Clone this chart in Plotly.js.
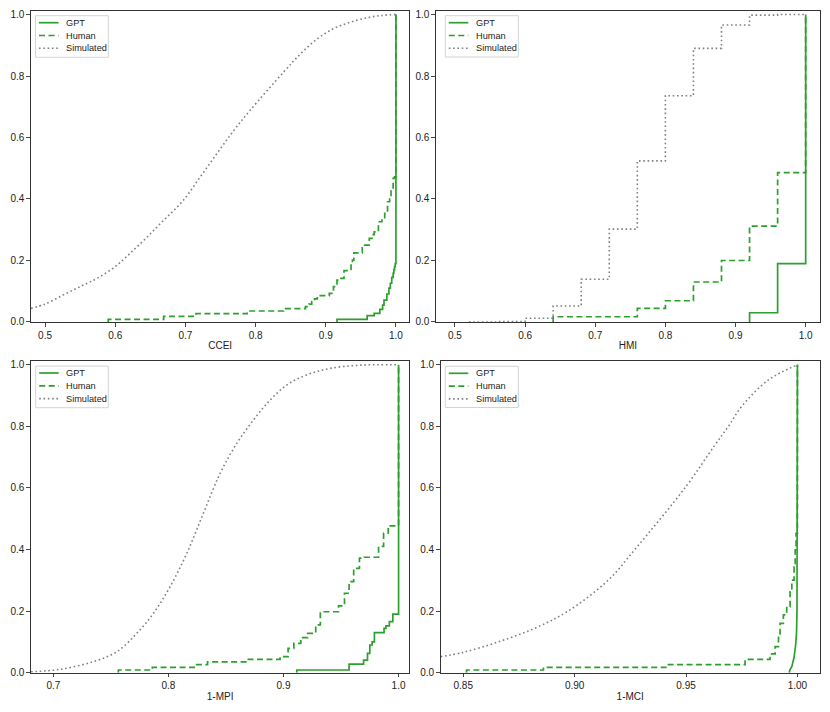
<!DOCTYPE html>
<html>
<head>
<meta charset="utf-8">
<script src="https://cdn.plot.ly/plotly-3.0.1.min.js"></script>
<style>
  body { margin: 0; background: #fff; }
  #chart { width: 830px; height: 712px; }
</style>
</head>
<body>
<div id="chart"></div>
<script>
// Create Data Variables (ECDF step points; each step curve starts at 0)
// CCEI panel
var ccei_gpt_x = [0.916, 0.916, 0.959, 0.969, 0.977, 0.981, 0.983, 0.987, 0.990, 0.992, 0.994, 0.996, 0.997, 0.998, 0.999, 1.0];
var ccei_gpt_y = [0.0, 0.0087, 0.0206, 0.028, 0.041, 0.055, 0.071, 0.091, 0.11, 0.126, 0.145, 0.158, 0.17, 0.18, 0.19, 1.0];
var ccei_human_x = [0.590, 0.590, 0.669, 0.715, 0.788, 0.840, 0.871, 0.876, 0.880, 0.884, 0.888, 0.905, 0.911, 0.916, 0.920, 0.926, 0.936, 0.938, 0.940, 0.952, 0.962, 0.966, 0.969, 0.975, 0.980, 0.984, 0.988, 0.991, 0.993, 0.996, 0.998, 1.0];
var ccei_human_y = [0.0, 0.0087, 0.0185, 0.027, 0.0357, 0.0433, 0.050, 0.058, 0.066, 0.075, 0.0855, 0.093, 0.115, 0.136, 0.142, 0.167, 0.19, 0.201, 0.225, 0.25, 0.272, 0.284, 0.293, 0.326, 0.335, 0.353, 0.391, 0.40, 0.429, 0.467, 0.472, 1.0];
var ccei_sim_x = [0.48, 0.50, 0.526, 0.55, 0.574, 0.60, 0.621, 0.645, 0.669, 0.695, 0.72, 0.745, 0.768, 0.792, 0.840, 0.864, 0.888, 0.911, 0.935, 0.96, 0.98, 1.0];
var ccei_sim_y = [0.044, 0.058, 0.088, 0.115, 0.142, 0.18, 0.223, 0.275, 0.331, 0.39, 0.468, 0.548, 0.62, 0.688, 0.813, 0.872, 0.921, 0.954, 0.975, 0.99, 0.997, 1.0];

// HMI panel
var hmi_gpt_x = [0.92, 0.92, 0.96, 1.0];
var hmi_gpt_y = [0.0, 0.030, 0.19, 1.0];
var hmi_human_x = [0.64, 0.64, 0.76, 0.80, 0.84, 0.88, 0.92, 0.96, 1.0];
var hmi_human_y = [0.0, 0.017, 0.044, 0.069, 0.13, 0.20, 0.312, 0.486, 1.0];
var hmi_sim_x = [0.52, 0.56, 0.60, 0.64, 0.68, 0.72, 0.76, 0.80, 0.84, 0.88, 0.92, 0.96, 1.0];
var hmi_sim_y = [0.0, 0.001, 0.012, 0.052, 0.139, 0.302, 0.524, 0.736, 0.89, 0.966, 0.998, 1.0, 1.0];

// 1-MPI panel
var mpi_gpt_x = [0.9116, 0.9116, 0.957, 0.9696, 0.973, 0.975, 0.977, 0.979, 0.982, 0.9874, 0.989, 0.992, 0.995, 0.9965, 1.0];
var mpi_gpt_y = [0.0, 0.0087, 0.028, 0.041, 0.063, 0.09, 0.10, 0.13, 0.13, 0.144, 0.152, 0.166, 0.19, 0.19, 1.0];
var mpi_human_x = [0.7565, 0.7565, 0.786, 0.8232, 0.834, 0.868, 0.897, 0.904, 0.909, 0.915, 0.921, 0.928, 0.932, 0.9478, 0.953, 0.957, 0.961, 0.966, 0.970, 0.9826, 0.987, 0.991, 0.995, 1.0];
var mpi_human_y = [0.0, 0.0087, 0.0173, 0.026, 0.035, 0.0435, 0.052, 0.079, 0.0955, 0.114, 0.128, 0.155, 0.198, 0.217, 0.258, 0.296, 0.339, 0.372, 0.375, 0.41, 0.453, 0.477, 0.477, 1.0];
var mpi_sim_x = [0.6806, 0.7058, 0.7348, 0.7551, 0.7725, 0.787, 0.8015, 0.816, 0.8304, 0.845, 0.8595, 0.8739, 0.8870, 0.903, 0.9203, 0.94, 0.967, 1.0];
var mpi_sim_y = [0.003, 0.011, 0.036, 0.068, 0.128, 0.193, 0.28, 0.388, 0.518, 0.648, 0.7455, 0.821, 0.880, 0.935, 0.9675, 0.988, 0.999, 1.0];

// 1-MCI panel
var mci_gpt_x = [0.9963, 0.9966, 0.9975, 0.9985, 0.9992, 0.9996, 0.9998, 1.0];
var mci_gpt_y = [0.0, 0.0087, 0.02, 0.05, 0.09, 0.13, 0.2, 1.0];
var mci_human_x = [0.8515, 0.8515, 0.886, 0.9416, 0.9765, 0.9863, 0.9877, 0.990, 0.9915, 0.9922, 0.9937, 0.9952, 0.9967, 0.9975, 0.9985, 0.999, 0.9994, 1.0];
var mci_human_y = [0.0, 0.0087, 0.0175, 0.026, 0.0435, 0.0435, 0.061, 0.085, 0.122, 0.16, 0.1875, 0.2145, 0.263, 0.301, 0.344, 0.399, 0.453, 1.0];
var mci_sim_x = [0.8398, 0.85, 0.8657, 0.882, 0.897, 0.915, 0.927, 0.95, 0.963, 0.969, 0.975, 0.987, 1.0];
var mci_sim_y = [0.052, 0.066, 0.10, 0.144, 0.20, 0.30, 0.40, 0.605, 0.74, 0.80, 0.865, 0.951, 1.0];

var axis_titles = ["CCEI", "HMI", "1-MPI", "1-MCI"];
var series_names = ["GPT", "Human", "Simulated"];

// Styles
var green = "#2ca02c";
var grey = "#808080";
var font_family = "Liberation Sans, Arial, sans-serif";
var line_styles = [
  { color: green, width: 1.7, dash: "solid" },
  { color: green, width: 1.7, dash: "6px,3.5px" },
  { color: grey, width: 1.6, dash: "1.6px,2.7px" }
];

// Build the three traces of one panel
function panel_traces(n, gx, gy, hx, hy, sx, sy, sim_shape, gpt_shape){
  var xa = "x" + (n > 1 ? n : "");
  var ya = "y" + (n > 1 ? n : "");
  var shapes = [gpt_shape, "hv", sim_shape];
  var xs = [gx, hx, sx];
  var ys = [gy, hy, sy];
  return xs.map(function(x, i){
    var st = line_styles[i];
    return { x: x, y: ys[i], name: series_names[i], mode: "lines", xaxis: xa, yaxis: ya,
      showlegend: false, hoverinfo: "skip",
      line: { color: st.color, width: st.width, dash: st.dash, shape: shapes[i] } };
  });
}

function x_axis(domain, range, title, fmt, dtick, anchor){
  return {
    domain: domain, range: range, anchor: anchor,
    title: { text: title, font: { size: 10, color: "#222" }, standoff: 2 },
    tickformat: fmt, dtick: dtick, tick0: 0,
    ticks: "outside", ticklen: 3.5, tickwidth: 0.9, tickcolor: "#333",
    showline: true, mirror: true, linecolor: "#333", linewidth: 1.1,
    showgrid: false, zeroline: false,
    tickfont: { size: 10, color: "#222" }
  };
}

function y_axis(domain, anchor){
  return {
    domain: domain, range: [0, 1.0125], anchor: anchor,
    tickformat: ".1f", dtick: 0.2, tick0: 0,
    ticks: "outside", ticklen: 3.5, tickwidth: 0.9, tickcolor: "#333",
    showline: true, mirror: true, linecolor: "#333", linewidth: 1.1,
    showgrid: false, zeroline: false,
    tickfont: { size: 10, color: "#222" }
  };
}

// pixel -> paper helpers (margins are zero)
function px(x){ return x / 830; }
function py(y){ return 1 - y / 712; }

// Matplotlib-style legend box drawn with shapes + annotations
// box = [left, top, right, bottom] in pixels
function legend_box(box, shapes, annotations){
  shapes.push({ type: "rect", xref: "paper", yref: "paper", layer: "above",
    x0: px(box[0]), x1: px(box[2]), y0: py(box[3]), y1: py(box[1]),
    fillcolor: "rgba(255,255,255,0.8)", line: { color: "#d4d4d4", width: 1 } });
  for (var i = 0; i < 3; i++){
    var row = box[1] + 7 + i * 12.8;
    var st = line_styles[i];
    shapes.push({ type: "line", xref: "paper", yref: "paper", layer: "above",
      x0: px(box[0] + 3.5), x1: px(box[0] + 23), y0: py(row), y1: py(row),
      line: { color: st.color, width: st.width, dash: st.dash } });
    annotations.push({ xref: "paper", yref: "paper", x: px(box[0] + 28.5), y: py(row),
      xanchor: "left", yanchor: "middle", showarrow: false, text: series_names[i],
      font: { size: 9.2, color: "#222", family: font_family } });
  }
}

function plot_data(){
  var data = [].concat(
    panel_traces(1, ccei_gpt_x, ccei_gpt_y, ccei_human_x, ccei_human_y, ccei_sim_x, ccei_sim_y, "spline", "hv"),
    panel_traces(2, hmi_gpt_x, hmi_gpt_y, hmi_human_x, hmi_human_y, hmi_sim_x, hmi_sim_y, "hv", "hv"),
    panel_traces(3, mpi_gpt_x, mpi_gpt_y, mpi_human_x, mpi_human_y, mpi_sim_x, mpi_sim_y, "spline", "hv"),
    panel_traces(4, mci_gpt_x, mci_gpt_y, mci_human_x, mci_human_y, mci_sim_x, mci_sim_y, "spline", "linear")
  );
  var shapes = [];
  var annotations = [];
  legend_box([35.5, 15.7, 108.3, 57.3], shapes, annotations);
  legend_box([445.3, 15.7, 518.3, 57.0], shapes, annotations);
  legend_box([35.7, 366.0, 108.3, 407.7], shapes, annotations);
  legend_box([445.3, 366.3, 518.3, 407.5], shapes, annotations);

  var top = [0.5478, 0.985];
  var bottom = [0.0552, 0.493];
  var layout = {
    width: 830, height: 712,
    margin: { l: 0, r: 0, t: 0, b: 0 },
    paper_bgcolor: "#fff", plot_bgcolor: "#fff",
    font: { family: font_family, color: "#222" },
    showlegend: false,
    xaxis:  x_axis([0.0374, 0.4931], [0.48, 1.019], axis_titles[0], ".1f", 0.1, "y"),
    yaxis:  y_axis(top, "x"),
    xaxis2: x_axis([0.5253, 0.9876], [0.473, 1.02], axis_titles[1], ".1f", 0.1, "y2"),
    yaxis2: y_axis(top, "x2"),
    xaxis3: x_axis([0.0374, 0.4931], [0.6806, 1.0093], axis_titles[2], ".1f", 0.1, "y3"),
    yaxis3: y_axis(bottom, "x3"),
    xaxis4: x_axis([0.5310, 0.9876], [0.8399, 1.010], axis_titles[3], ".2f", 0.05, "y4"),
    yaxis4: y_axis(bottom, "x4"),
    shapes: shapes,
    annotations: annotations
  };
  Plotly.newPlot("chart", data, layout, { displayModeBar: false, staticPlot: true });
}

plot_data();
</script>
</body>
</html>
